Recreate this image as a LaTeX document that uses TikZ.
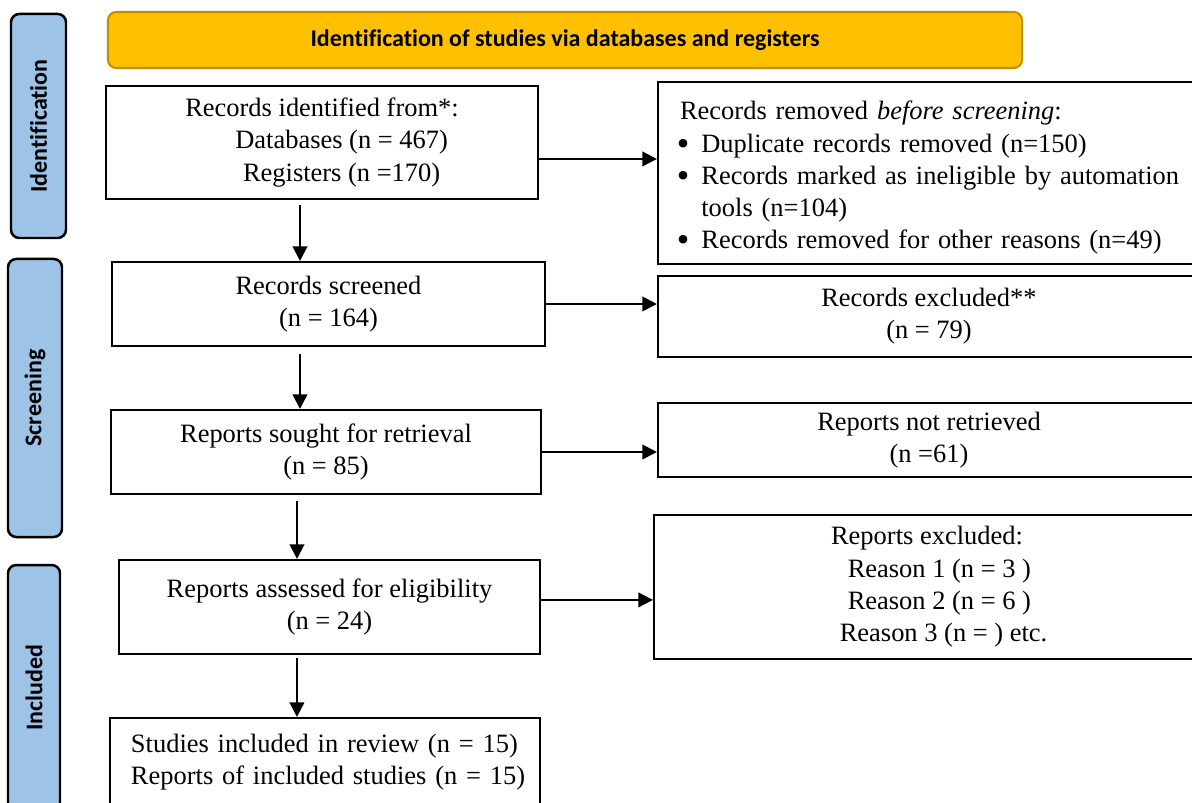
\documentclass[tikz,border=0pt]{standalone}
\usepackage{fontspec}
\setmainfont{Liberation Serif}
\newfontfamily\calibri[Ligatures=NoCommon]{Carlito}
\usetikzlibrary{arrows.meta}
\definecolor{stageblue}{HTML}{9DC3E6}
\definecolor{headgold}{HTML}{FFC000}
\definecolor{headedge}{HTML}{BF9000}
\newcommand\bul{\makebox[11.8pt][l]{\raisebox{-1.4pt}{\scalebox{1.35}{\textbullet}}}}
\tikzset{
  box/.style={draw,line width=1pt,inner sep=0pt,align=center,font=\fontsize{12.8}{15.6}\selectfont},
  stage/.style={draw,line width=1.2pt,rounded corners=4pt,fill=stageblue,rotate=90,inner sep=0pt,font=\calibri\bfseries\fontsize{11.6}{13}\selectfont},
  headbar/.style={draw=headedge,fill=headgold,line width=1pt,rounded corners=4pt,inner sep=0pt,font=\calibri\bfseries\fontsize{11.6}{13}\selectfont},
  arr/.style={line width=1pt,-{Triangle[length=7pt,width=7pt]}}
}
\begin{document}
\begin{tikzpicture}[x=0.017cm,y=-0.017cm]
\useasboundingbox (0,0) rectangle (1192,803);
\clip (0,0) rectangle (1192,803);
\node[stage,minimum width=3.808cm,minimum height=0.935cm] (stgid) at (38.5,126) {Identification};
\node[stage,minimum width=4.726cm,minimum height=0.918cm] (stgscr) at (35,398) {Screening};
\node[stage,minimum width=4.18cm,minimum height=0.884cm] (stginc) at (34,688) {Included};
\node[headbar,minimum width=15.538cm,minimum height=0.952cm] (head) at (565,40) {Identification of studies via databases and registers};
\node[box,minimum width=7.344cm,minimum height=1.921cm] (idbox) at (322,142.5) {Records identified from*:\\ \hspace*{19pt}Databases (n = 467)\\ \hspace*{19pt}Registers (n =170)};
\node[box,minimum width=9.214cm,minimum height=3.094cm,inner xsep=0.323cm,text width=8.568cm,align=left] (rem) at (929,173) {\raisebox{-2.4pt}[\height][\depth]{\begin{tabular}{@{}l@{}}
  \hspace*{1.5pt}Records removed \textit{before screening}:\\
  \bul Duplicate records removed (n=150)\\
  \bul Records marked as ineligible by automation\\
  \hspace*{11.8pt}tools (n=104)\\
  \bul Records removed for other reasons (n=49)
  \end{tabular}}};
\node[box,minimum width=7.361cm,minimum height=1.428cm] (scr) at (328.5,304) {Records screened\\(n = 164)};
\node[box,minimum width=9.214cm,minimum height=1.377cm] (exc) at (929,316.5) {Records excluded**\\(n = 79)};
\node[box,minimum width=7.31cm,minimum height=1.428cm] (sought) at (326,452) {Reports sought for retrieval\\(n = 85)};
\node[box,minimum width=9.214cm,minimum height=1.258cm] (notret) at (929,440) {Reports not retrieved\\(n =61)};
\node[box,minimum width=7.157cm,minimum height=1.598cm] (assess) at (329.5,607) {Reports assessed for eligibility\\(n = 24)};
\node[box,minimum width=9.282cm,minimum height=2.448cm] (repexc) at (927,587) {Reports excluded:\\ \hspace*{12pt}Reason 1 (n = 3 )\\ \hspace*{12pt}Reason 2 (n = 6 )\\ \hspace*{16pt}Reason 3 (n = ) etc.};
\node[box,minimum width=7.31cm,minimum height=1.496cm,inner xsep=0.357cm,text width=6.596cm,align=left] (incl) at (325,762) {\begin{tabular}{@{}l@{}}
  Studies included in review (n = 15)\\
  Reports of included studies (n = 15)
  \end{tabular}};
\draw[arr] ([yshift=-0.28cm]idbox.east) -- ([yshift=-0.28cm]idbox.east -| rem.west);
\draw[arr] (scr.east) -- (scr.east -| exc.west);
\draw[arr] (sought.east) -- (sought.east -| notret.west);
\draw[arr] ([yshift=0.12cm]assess.east) -- ([yshift=0.12cm]assess.east -| repexc.west);
\draw[arr,shorten <=0.08cm] ([xshift=-0.374cm]idbox.south) -- ([xshift=-0.374cm]idbox.south |- scr.north);
\draw[arr,shorten <=0.12cm] ([xshift=-0.485cm]scr.south) -- ([xshift=-0.485cm]scr.south |- sought.north);
\draw[arr,shorten <=0.1cm] ([xshift=-0.493cm]sought.south) -- ([xshift=-0.493cm]sought.south |- assess.north);
\draw[arr,shorten <=0.05cm] ([xshift=-0.553cm]assess.south) -- ([xshift=-0.553cm]assess.south |- incl.north);
\end{tikzpicture}
\end{document}
